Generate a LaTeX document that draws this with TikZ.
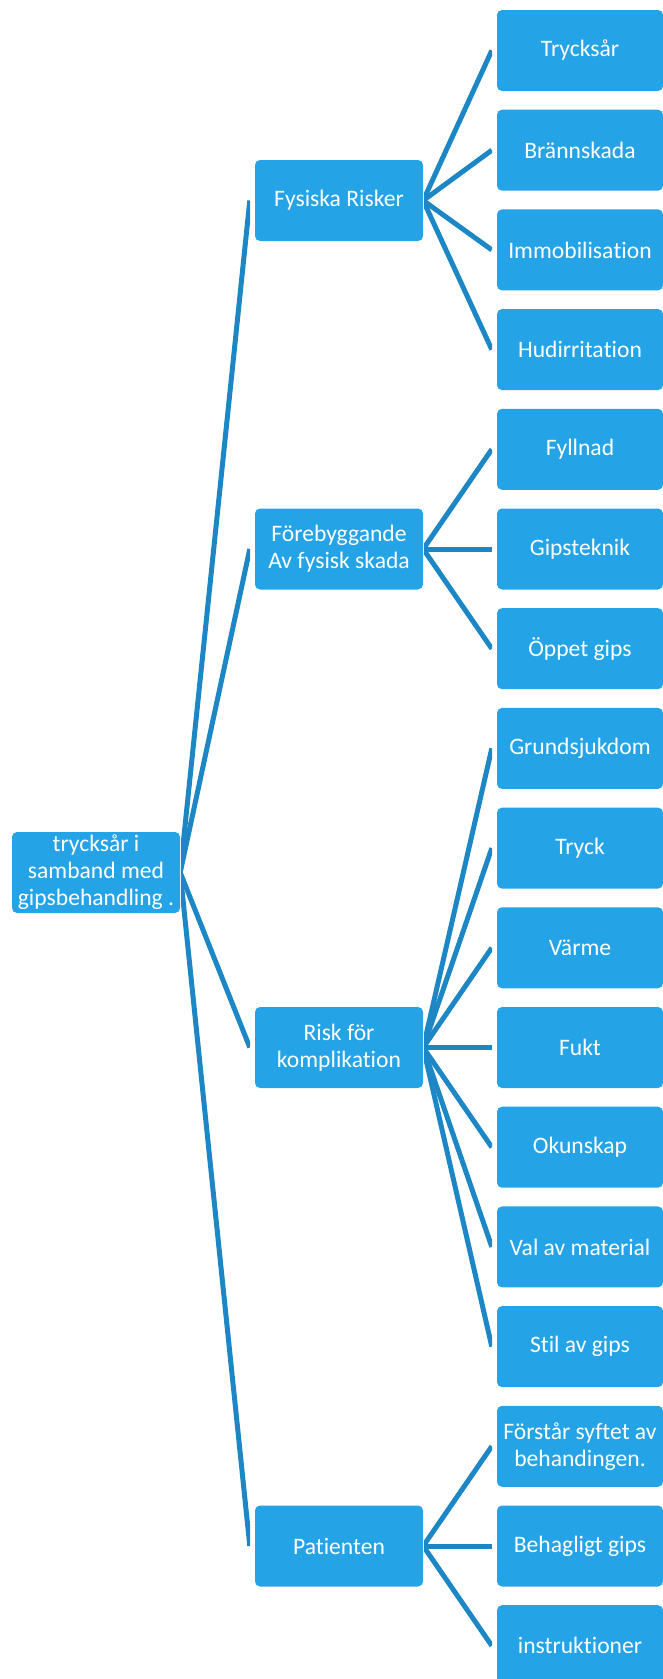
\documentclass[tikz,border=0pt]{standalone}
\usepackage{fontspec}
\setmainfont{Carlito}[RawFeature={-liga;-clig;-dlig;-calt;-rlig}]
\definecolor{boxblue}{RGB}{36,163,230}
\definecolor{linkblue}{RGB}{29,135,198}

\begin{document}
\begin{tikzpicture}[x=1pt,y=-1pt,
	box/.style={rectangle,rounded corners=5pt,fill=boxblue,text=white,minimum width=168pt,minimum height=81pt,inner sep=0pt,align=center,font=\fontsize{23.6}{27}\selectfont},
	leaf/.style={box,minimum width=166pt},
	link/.style={draw=linkblue,line width=5pt}]
	\useasboundingbox (0,0) rectangle (663,1679);
	
	%ROOT
	\node[box] (root) at (96,872.5) {trycksår i\\samband med\\gipsbehandling .};
	
	%LEVEL 1
	\node[box] (fys) at (339,200.5) {Fysiska Risker};
	\node[box] (forb) at (339,549) {Förebyggande\\Av fysisk skada};
	\node[box] (risk) at (339,1047.5) {Risk för\\komplikation};
	\node[box] (pat) at (339,1546) {Patienten};
	
	%LEVEL 2
	\node[leaf] (tryck) at (580,50.5) {Trycksår};
	\node[leaf] (brann) at (580,150.2) {Brännskada};
	\node[leaf] (immo) at (580,249.9) {Immobilisa\kern0pt tion};
	\node[leaf] (hud) at (580,349.6) {Hudirrita\kern0pt tion};
	\node[leaf] (fyll) at (580,449.3) {Fyllnad};
	\node[leaf] (teknik) at (580,549) {Gipsteknik};
	\node[leaf] (oppet) at (580,648.7) {Öppet gips};
	\node[leaf] (grund) at (580,748.4) {Grundsjukdom};
	\node[leaf] (tryckk) at (580,848.1) {Tryck};
	\node[leaf] (varme) at (580,947.8) {Värme};
	\node[leaf] (fukt) at (580,1047.5) {Fukt};
	\node[leaf] (okun) at (580,1147.2) {Okunskap};
	\node[leaf] (val) at (580,1246.9) {Val av material};
	\node[leaf] (stil) at (580,1346.6) {Stil av gips};
	\node[leaf] (forst) at (580,1446.3) {Förstår syftet av\\behandingen.};
	\node[leaf] (behag) at (580,1546) {Behagligt gips};
	\node[leaf] (instr) at (580,1645.7) {instruk\kern0pt tioner};
	
	%LINKS ROOT
	\begin{scope}
		\clip (181,0) rectangle (250,1679);
		\draw[link] (root.east) -- ([xshift=-5pt]fys.west);
		\draw[link] (root.east) -- ([xshift=-5pt]forb.west);
		\draw[link] (root.east) -- ([xshift=-5pt]risk.west);
		\draw[link] (root.east) -- ([xshift=-5pt]pat.west);
	\end{scope}
	
	%LINKS LEVEL 1
	\begin{scope}
		\clip (424,0) rectangle (492,1679);
		\draw[link] (fys.east) -- ([xshift=-5pt]tryck.west);
		\draw[link] (fys.east) -- ([xshift=-5pt]brann.west);
		\draw[link] (fys.east) -- ([xshift=-5pt]immo.west);
		\draw[link] (fys.east) -- ([xshift=-5pt]hud.west);
		\draw[link] (forb.east) -- ([xshift=-5pt]fyll.west);
		\draw[link] (forb.east) -- ([xshift=-5pt]teknik.west);
		\draw[link] (forb.east) -- ([xshift=-5pt]oppet.west);
		\draw[link] (risk.east) -- ([xshift=-5pt]grund.west);
		\draw[link] (risk.east) -- ([xshift=-5pt]tryckk.west);
		\draw[link] (risk.east) -- ([xshift=-5pt]varme.west);
		\draw[link] (risk.east) -- ([xshift=-5pt]fukt.west);
		\draw[link] (risk.east) -- ([xshift=-5pt]okun.west);
		\draw[link] (risk.east) -- ([xshift=-5pt]val.west);
		\draw[link] (risk.east) -- ([xshift=-5pt]stil.west);
		\draw[link] (pat.east) -- ([xshift=-5pt]forst.west);
		\draw[link] (pat.east) -- ([xshift=-5pt]behag.west);
		\draw[link] (pat.east) -- ([xshift=-5pt]instr.west);
	\end{scope}
\end{tikzpicture}
\end{document}
